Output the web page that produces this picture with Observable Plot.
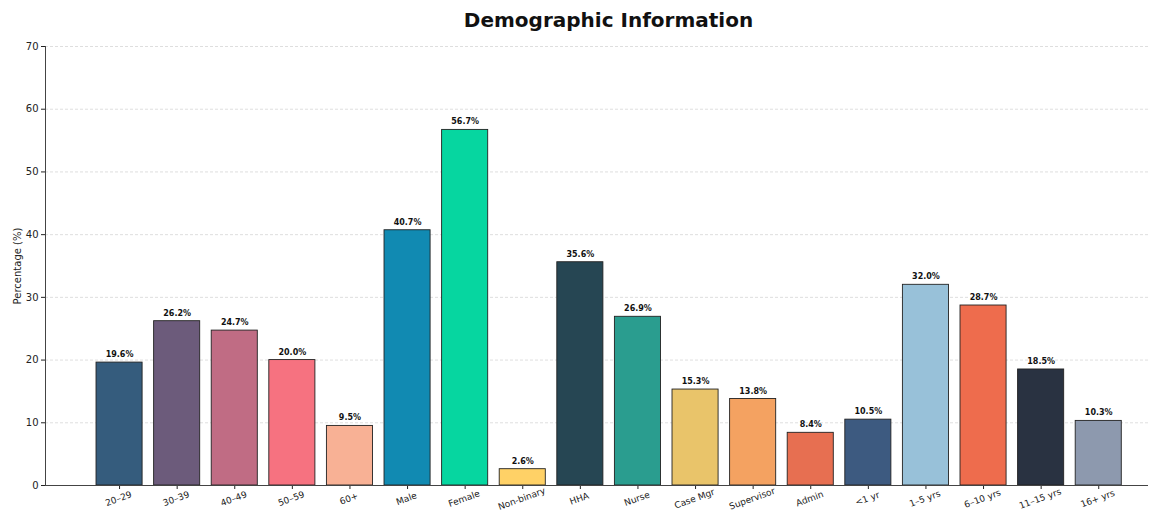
<!DOCTYPE html>
<html><head><meta charset="utf-8">
<script src="https://cdn.jsdelivr.net/npm/d3@7"></script>
<script src="https://cdn.jsdelivr.net/npm/@observablehq/plot@0.6"></script>
<style>
body{margin:0;background:#fff;font-family:"DejaVu Sans",sans-serif;}
#title{height:36px;box-sizing:border-box;padding-left:58px;padding-top:9px;text-align:center;font-weight:bold;font-size:20px;line-height:22px;color:#111;}
</style></head>
<body>
<div id="title">Demographic Information</div>
<div id="chart"></div>
<script>
const categories = ["20–29","30–39","40–49","50–59","60+","Male","Female","Non-binary","HHA","Nurse","Case Mgr","Supervisor","Admin","<1 yr","1–5 yrs","6–10 yrs","11–15 yrs","16+ yrs"];
const values = [19.6,26.2,24.7,20.0,9.5,40.7,56.7,2.6,35.6,26.9,15.3,13.8,8.4,10.5,32.0,28.7,18.5,10.3];
const colors = ["#355c7d","#6c5b7b","#c06c84","#f67280","#f8b195","#118ab2","#06d6a0","#ffd166","#264653","#2a9d8f","#e9c46a","#f4a261","#e76f51","#3d5a80","#98c1d9","#ee6c4d","#293241","#8d99ae"];
const yTicks = [0,10,20,30,40,50,60,70];

const data = categories.map((c,i)=>({category:c, value:values[i], color:colors[i]}));

const chart = Plot.plot({
  width:1159, height:477,
  marginLeft:45, marginRight:11, marginTop:10, marginBottom:28,
  style:{fontFamily:"DejaVu Sans, sans-serif", fontSize:"10px", color:"#222", background:"#fff"},
  x:{domain:categories, padding:0.2, round:false, insetLeft:39.5, insetRight:15.2},
  y:{domain:[0,70]},
  marks:[
    Plot.gridY(yTicks.slice(1), {stroke:"#d0d0d0", strokeOpacity:1, strokeDasharray:"3,2", strokeWidth:0.7}),
    Plot.barY(data, {x:"category", y:"value", fill:"color", stroke:"#222", strokeWidth:0.9}),
    Plot.text(data, {x:"category", y:"value", text:d=>d.value.toFixed(1)+"%", dy:-8, fontWeight:"bold", fontSize:8, fill:"#111"}),
    Plot.axisY({ticks:yTicks, tickSize:4, tickPadding:3, fontSize:10, label:"Percentage (%)", labelAnchor:"center", labelArrow:"none", labelOffset:32}),
    Plot.axisX({tickSize:4, tickFormat:()=>"", label:null}),
    Plot.text(categories, {x:d=>d, frameAnchor:"bottom", dy:16, rotate:-20, fontSize:9, fill:"#222"}),
    Plot.ruleY([0], {stroke:"#444", strokeWidth:1}),
    Plot.frame({anchor:"left", stroke:"#444", strokeWidth:1})
  ]
});
document.getElementById("chart").appendChild(chart);
</script>
</body></html>
